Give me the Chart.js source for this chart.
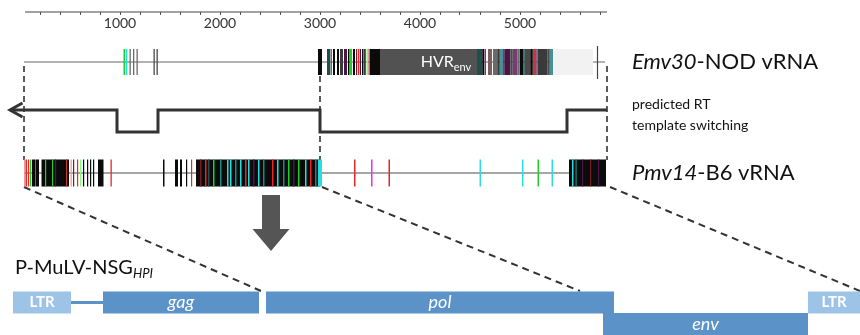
<!DOCTYPE html>
<html><head><meta charset="utf-8">
<script src="https://cdn.jsdelivr.net/npm/chart.js@4/dist/chart.umd.min.js"></script>
<style>html,body{margin:0;padding:0;background:#fff}#wrap{width:860px;height:335px;position:relative}</style>
</head><body><div id="wrap"><canvas id="c"></canvas></div>
<script>
// ---------- data (sequence positions in nt) ----------
const axisLabels = [1000, 2000, 3000, 4000, 5000];
const axisRange = [50, 5870];
const emvRange = [40, 5850];
const pmvRange = [40, 5850];
// [start, end, base code]
const emvMarks = [
  [1035,1052,'G'],[1060,1074,'C'],[1095,1108,'Y'],[1130,1143,'Y'],[1165,1178,'Y'],[1335,1348,'N'],[1365,1378,'N'],
  [2980,3020,'K'],[3070,3100,'T2'],[3105,3118,'N'],[3130,3150,'K'],[3170,3190,'K'],[3200,3230,'N2'],[3240,3270,'P'],
  [3280,3295,'K'],[3300,3320,'G'],[3330,3350,'K'],[3360,3372,'D'],[3380,3392,'R'],[3398,3410,'P'],[3420,3435,'K'],
  [3440,3458,'N2'],[3465,3480,'L'],[3485,3498,'R2'],[3500,3600,'K'],
  [3600,4570,'H'],
  [4570,4620,'T2'],[4622,4642,'K'],[4645,4660,'P2'],[4680,4720,'B'],[4730,4770,'Y'],[4772,4798,'N2'],[4800,4830,'T3'],
  [4832,4848,'P'],[4850,4900,'P'],[4902,4928,'N'],[4930,4970,'P2'],[4972,4998,'Y'],[5000,5030,'K'],[5032,5048,'T2'],
  [5050,5100,'N'],[5102,5128,'K'],[5130,5160,'R2'],[5162,5178,'P2'],[5180,5270,'N2'],[5272,5298,'N'],[5300,5330,'T3'],
  [5330,5730,'S']
];
const emvEndTick = 5775;
const pmvMarks = [
  [40,52,'pk'],[55,70,'R'],[80,92,'R'],[100,112,'G'],[120,150,'K'],[150,160,'T'],[160,190,'K'],
  [215,490,'K'],[250,262,'G'],[320,332,'G'],[350,362,'P'],[460,472,'R2'],
  [505,518,'pk'],[530,542,'D'],[570,582,'R'],[600,612,'L'],[630,642,'K'],[670,682,'K'],[700,712,'K'],[730,742,'K'],
  [780,835,'K'],[905,918,'R'],
  [1430,1445,'K'],[1550,1580,'K'],[1600,1620,'K'],[1660,1672,'K'],[1710,1722,'R'],
  [1760,3000,'K'],
  [1800,1815,'D'],[1850,1865,'R'],[1880,1895,'T2'],[1930,1945,'G'],[2000,2015,'T'],[2070,2085,'C'],[2100,2115,'C'],
  [2150,2165,'T'],[2200,2215,'C'],[2250,2265,'R'],[2280,2295,'C'],[2330,2345,'P'],[2380,2395,'C'],[2430,2445,'T'],
  [2520,2535,'R'],[2570,2585,'C'],[2630,2645,'T'],[2680,2695,'G'],[2730,2745,'P'],[2780,2795,'G'],[2850,2865,'C'],
  [2900,2915,'R'],[2950,2965,'T'],[2980,3000,'C'],[3000,3020,'C'],
  [3340,3355,'R'],[3510,3525,'M'],[3685,3700,'R'],[4595,4610,'C'],[5020,5035,'C'],[5175,5190,'G'],[5315,5330,'C'],
  [5490,5860,'K'],[5520,5535,'C'],[5555,5567,'T'],[5620,5632,'P'],[5700,5712,'D'],[5780,5792,'P']
];
// predicted template switching: positions where RT jumps between templates
const switchStart = -100, switchEnd = 5870;
const switchAt = [970, 1380, 3000, 5470];
// genome map of the recombinant: [name, start, end, lane, kind]
const genes = [
  ['LTR', -70, 510, 'top', 'ltr'],
  ['gag', 830, 2390, 'top', 'orf'],
  ['pol', 2460, 5940, 'top', 'orf'],
  ['env', 5830, 7880, 'low', 'orf'],
  ['LTR', 7880, 8600, 'top', 'ltr']
];
const connector = [510, 830];
const boundaries = [40, 3000, 5870];
const projections = [[40, 2410], [3020, 5600], [5900, 8400]];
const arrowPos = 2510;

// ---------- layout / style ----------
const row = {axis: 12, emv: 62, hi: 110, lo: 132, pmv: 173, dashTop: 66, dashBot: 160, projTop: 187, projBot: 291,
  arrowTop: 195, arrowNeck: 229, arrowTip: 251, map: 302.5, low: 324, title: 268};
const pal = {K:'#0b0b0b', C:'#2adbe0', T:'#1b8a8a', T2:'#1d4f4f', T3:'#4a8f95', R:'#ef2424', R2:'#c23a3a', D:'#7a1a22',
  G:'#1fcf2a', L:'#7dff7d', P:'#4a1648', P2:'#7a3a78', M:'#ee2bee', N:'#4a4a4a', N2:'#3a3a3a', Y:'#6a6a6a', B:'#7a5e5e',
  S:'#f2f2f2', H:'#525252', pk:'#f09a9a'};
const geneCol = {ltr:'#9dc3e6', orf:'#5b92c8'};
const FONT = 'Lato, "Open Sans", sans-serif';

function barSet(segs, y, thick, order, colFn) {
  return {type:'bar', indexAxis:'y', grouped:false, barThickness:thick, order,
    data: segs.map(s => ({x:[s[0], s[1]], y})),
    backgroundColor: segs.map(colFn), borderWidth:0, inflateAmount:0};
}
function lineSet(pts, color, width, dash, order, extra) {
  return Object.assign({type:'line', data: pts.map(p => ({x:p[0], y:p[1]})), borderColor: color, borderWidth: width,
    borderDash: dash || [], pointRadius: 0, tension: 0, fill: false, order, borderCapStyle:'butt', borderJoinStyle:'miter'}, extra || {});
}

// switching path
const swPts = [[switchStart, row.hi]];
let hi = true;
switchAt.forEach(p => { const a = hi ? row.hi : row.lo; const b = hi ? row.lo : row.hi; swPts.push([p, a], [p, b]); hi = !hi; });
swPts.push([switchEnd, hi ? row.hi : row.lo]);

const datasets = [];
datasets.push(barSet(emvMarks, row.emv, 26, 5, s => pal[s[2]]));
datasets.push(lineSet([[emvEndTick, 46], [emvEndTick, 79]], '#444', 1.2, null, 4));
datasets.push(barSet(pmvMarks, row.pmv, 27, 5, s => pal[s[2]]));
datasets.push(lineSet([[emvRange[0], row.emv], [emvRange[1], row.emv]], '#666', 1, null, 8));
datasets.push(lineSet([[pmvRange[0], row.pmv], [pmvRange[1], row.pmv]], '#888', 1.5, null, 8));
datasets.push(lineSet([[axisRange[0], row.axis], [axisRange[1], row.axis]], '#444', 1, null, 8));
boundaries.forEach(b => datasets.push(lineSet([[b, row.dashTop], [b, row.dashBot]], '#333', 1.6, [6, 4], 6)));
projections.forEach(p => datasets.push(lineSet([[p[0], row.projTop], [p[1], row.projBot]], '#333', 2, [7, 5], 6)));
datasets.push(lineSet(swPts, '#333', 3, null, 3));
datasets.push(lineSet([[switchStart + 125, row.hi - 7], [switchStart, row.hi], [switchStart + 125, row.hi + 7]], '#333', 3, null, 3));
// arrow (polygon)
const aw = 90, hw = 185;
datasets.push(lineSet([[arrowPos - aw, row.arrowTop], [arrowPos + aw, row.arrowTop], [arrowPos + aw, row.arrowNeck],
  [arrowPos + hw, row.arrowNeck], [arrowPos, row.arrowTip], [arrowPos - hw, row.arrowNeck], [arrowPos - aw, row.arrowNeck],
  [arrowPos - aw, row.arrowTop]], '#555', 0, null, 3, {fill: 'shape', backgroundColor: '#555'}));
// genome map
datasets.push(lineSet([[connector[0], row.map], [connector[1], row.map]], geneCol.orf, 3, null, 7));
const geneSegs = genes.map(g => [g[1], g[2], g[4], g[3]]);
datasets.push(barSet(geneSegs.filter(g => g[3] === 'top'), row.map, 22, 2, g => geneCol[g[2]]));
datasets.push(barSet(geneSegs.filter(g => g[3] === 'low'), row.low, 22, 2, g => geneCol[g[2]]));

const textPlugin = {
  id: 'texts',
  afterDatasetsDraw(chart) {
    const {ctx, scales: {x, y}} = chart;
    ctx.save();
    ctx.textBaseline = 'middle';
    function runs(parts, px, py, align) {
      let w = 0;
      parts.forEach(p => { ctx.font = p[1]; w += ctx.measureText(p[0]).width; });
      let cx = align === 'center' ? px - w / 2 : px;
      parts.forEach(p => { ctx.font = p[1]; ctx.fillStyle = p[3] || '#111'; ctx.textAlign = 'left'; ctx.fillText(p[0], cx, py + (p[2] || 0)); cx += ctx.measureText(p[0]).width; });
    }
    const lx = x.getPixelForValue(6120);
    runs([['Emv30', 'italic 22px ' + FONT], ['-NOD vRNA', '22px ' + FONT]], lx, y.getPixelForValue(row.emv), 'left');
    runs([['Pmv14', 'italic 22px ' + FONT], ['-B6 vRNA', '22px ' + FONT]], lx, y.getPixelForValue(row.pmv), 'left');
    runs([['predicted RT', '14px ' + FONT]], lx, y.getPixelForValue(104), 'left');
    runs([['template switching', '14px ' + FONT]], lx, y.getPixelForValue(125), 'left');
    runs([['P-MuLV-NSG', '20px ' + FONT], ['HPI', 'italic 13px ' + FONT, 6]], x.getPixelForValue(-50), y.getPixelForValue(row.title), 'left');
    runs([['HVR', '16px ' + FONT, 0, '#fff'], ['env', '11px ' + FONT, 5, '#fff']], x.getPixelForValue(4260), y.getPixelForValue(row.emv), 'center');
    genes.forEach(g => {
      const x1 = x.getPixelForValue(g[1]);
      const x2 = Math.min(x.getPixelForValue(g[2]), chart.width);
      const cy = y.getPixelForValue(g[3] === 'top' ? row.map : row.low);
      const f = g[4] === 'ltr' ? 'bold 15px ' + FONT : 'italic 18px ' + FONT;
      const cx = g[4] === 'ltr' && g[1] > 0 ? x1 + 26 : (x1 + x2) / 2;
      runs([[g[0], f, 0, '#fff']], cx, cy, 'center');
    });
    ctx.restore();
  }
};

new Chart(document.getElementById('c'), {
  type: 'line',
  data: {datasets},
  options: {
    responsive: true, maintainAspectRatio: false, animation: false, events: [],
    layout: {padding: 0},
    plugins: {legend: {display: false}, tooltip: {enabled: false}},
    scales: {
      x: {type: 'linear', min: -200, max: 8400, offset: false, position: {y: row.axis},
        afterBuildTicks: s => { s.ticks = s.ticks.filter(t => t.value >= 200 && t.value <= 5800); },
        ticks: {stepSize: 200, autoSkip: false, maxRotation: 0, padding: 0, color: '#333', font: {size: 14, family: FONT},
          callback: v => axisLabels.includes(v) ? String(v) : ''},
        grid: {drawOnChartArea: false, drawTicks: true, tickLength: 3, color: '#555'},
        border: {display: false}},
      y: {type: 'linear', min: 0, max: 335, reverse: true, display: false, offset: false}
    }
  },
  plugins: [textPlugin]
});
</script></body></html>
